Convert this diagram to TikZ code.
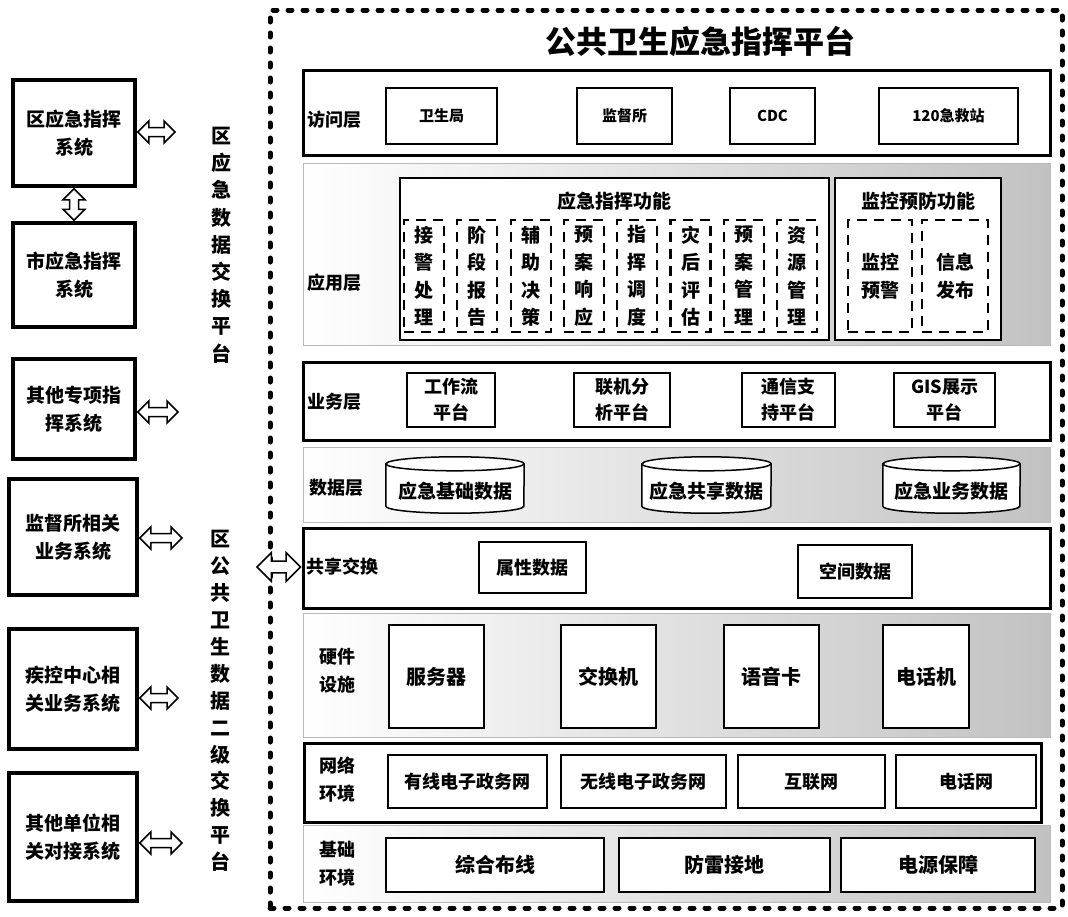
\documentclass[tikz,border=0pt]{standalone}
\usepackage{fontspec}
\setmainfont{Noto Sans CJK SC}
\usetikzlibrary{calc}
\begin{document}
\begin{tikzpicture}[x=1pt,y=-1pt,
  sysbox/.style={draw, line width=3.5pt, align=center, inner sep=0pt, font=\fontsize{19}{28}\selectfont\bfseries},
  layerbox/.style={draw, line width=3pt, inner sep=0pt},
  itembox/.style={draw, line width=1.4pt, align=center, inner sep=0pt, font=\fontsize{18}{26}\selectfont\bfseries},
  smallitem/.style={itembox, font=\fontsize{15}{20}\selectfont\bfseries},
  dbox/.style={draw, line width=2.2pt, dash pattern=on 10pt off 7pt, inner sep=0pt, align=center, font=\fontsize{19}{27.5}\selectfont\bfseries},
  funcbox/.style={draw, line width=1.6pt, inner sep=0pt},
  lbl/.style={inner sep=0pt, align=center, font=\fontsize{18}{28}\selectfont\bfseries},
  coltext/.style={inner sep=0pt, align=center, font=\fontsize{20}{27.2}\selectfont\bfseries},
  harrow/.style={draw, fill=white, line width=1.5pt, line join=miter,
    to path={let \p1=(\tikztostart), \p2=(\tikztotarget) in
      (\x1,\y1) -- (\x1+#1*11pt,\y1+#1*11pt) -- (\x1+#1*11pt,\y1+#1*4.5pt) -- (\x2-#1*11pt,\y1+#1*4.5pt)
      -- (\x2-#1*11pt,\y1+#1*11pt) -- (\x2,\y1) -- (\x2-#1*11pt,\y1-#1*11pt) -- (\x2-#1*11pt,\y1-#1*4.5pt)
      -- (\x1+#1*11pt,\y1-#1*4.5pt) -- (\x1+#1*11pt,\y1-#1*11pt) -- cycle}},
  harrow/.default=1,
  varrow/.style={draw, fill=white, line width=1.5pt, line join=miter,
    to path={let \p1=(\tikztostart), \p2=(\tikztotarget) in
      (\x1,\y1) -- (\x1+11pt,\y1-11pt) -- (\x1+4.5pt,\y1-11pt) -- (\x1+4.5pt,\y2+11pt)
      -- (\x1+11pt,\y2+11pt) -- (\x1,\y2) -- (\x1-11pt,\y2+11pt) -- (\x1-4.5pt,\y2+11pt)
      -- (\x1-4.5pt,\y1-11pt) -- (\x1-11pt,\y1-11pt) -- cycle}},
  region/.style={draw=gray!55, line width=0.6pt, left color=white, right color=black!24},
  cylnode/.style={inner sep=0pt, minimum height=56pt}
]
\useasboundingbox (0,0) rectangle (1068,916);

% ---------- left systems ----------
\node[sysbox, minimum width=122pt, minimum height=106pt] (b1) at (74,133) {区应急指挥\\系统};
\node[sysbox, minimum width=122pt, minimum height=104pt] (b2) at (74,275) {市应急指挥\\系统};
\node[sysbox, minimum width=122pt, minimum height=100pt] (b3) at (74,409) {其他专项指\\挥系统};
\node[sysbox, minimum width=128pt, minimum height=116pt] (b4) at (73,537) {监督所相关\\业务系统};
\node[sysbox, minimum width=128pt, minimum height=120pt] (b5) at (73,689) {疾控中心相\\关业务系统};
\node[sysbox, minimum width=128pt, minimum height=128pt] (b6) at (73,837) {其他单位相\\关对接系统};

\coordinate (e1) at (175,132);
\coordinate (e3) at (178,412);
\coordinate (e4) at (182,538);
\coordinate (e5) at (178,698);
\coordinate (e6) at (182,843);
\draw[harrow] ([xshift=1pt]b1.east |- e1) to (e1);
\draw[varrow] ([yshift=-1pt]b1.south) to ([yshift=1pt]b2.north);
\draw[harrow] ([xshift=1pt]b3.east |- e3) to (e3);
\draw[harrow] ([xshift=1pt]b4.east |- e4) to (e4);
\draw[harrow] ([xshift=1pt]b5.east |- e5) to (e5);
\draw[harrow] ([xshift=1pt]b6.east |- e6) to (e6);

% ---------- exchange platform columns ----------
\node[coltext] (col1) at (221,245) {区\\应\\急\\数\\据\\交\\换\\平\\台};
\node[coltext, font=\fontsize{20}{26.9}\selectfont\bfseries] (col2) at (220,701) {区\\公\\共\\卫\\生\\数\\据\\二\\级\\交\\换\\平\\台};

% ---------- shaded layer regions ----------
\path[region] (303,163) rectangle (1050,345);
\path[region] (303,447) rectangle (1050,522);
\path[region] (303,613) rectangle (1050,737);
\path[region] (303,825) rectangle (1050,902);

% ---------- outer dotted frame ----------
\node[draw, line width=5pt, dash pattern=on 4pt off 11pt, line cap=round, minimum width=792pt, minimum height=898pt, inner sep=0pt] (frame) at (666,459) {};

\node[inner sep=0pt, font=\fontsize{31}{34}\selectfont\bfseries] (title) at (700,42) {公共卫生应急指挥平台};

% ---------- access layer ----------
\node[layerbox, minimum width=747pt, minimum height=85pt] (access) at (676.5,112.5) {};
\node[lbl, anchor=west] (lacc) at (307,120) {访问层};
\node[smallitem, minimum width=111pt, minimum height=56pt] (a1) at (441.5,116) {卫生局};
\node[smallitem, minimum width=95pt, minimum height=56pt] (a2) at (624.5,116) {监督所};
\node[smallitem, minimum width=85pt, minimum height=56pt] (a3) at (772.5,116) {CDC};
\node[smallitem, minimum width=139pt, minimum height=56pt] (a4) at (948.5,116) {120急救站};

% ---------- application layer ----------
\node[lbl, anchor=west] (lapp) at (307,283) {应用层};
\node[funcbox, fill=white, minimum width=429pt, minimum height=162pt] (cmd) at (614.5,259) {};
\node[funcbox, fill=white, minimum width=166pt, minimum height=162pt] (mon) at (918,259) {};
\node[lbl, font=\fontsize{19}{24}\selectfont\bfseries] (cmdt) at (614,201) {应急指挥功能};
\node[lbl, font=\fontsize{19}{24}\selectfont\bfseries] (mont) at (918,201) {监控预防功能};
\node[dbox, minimum width=40pt, minimum height=112pt] (s1) at (424,276) {接\\警\\处\\理};
\node[dbox, minimum width=40pt, minimum height=112pt] (s2) at (477.3,276) {阶\\段\\报\\告};
\node[dbox, minimum width=40pt, minimum height=112pt] (s3) at (530.6,276) {辅\\助\\决\\策};
\node[dbox, minimum width=40pt, minimum height=112pt] (s4) at (583.9,276) {预\\案\\响\\应};
\node[dbox, minimum width=40pt, minimum height=112pt] (s5) at (637.2,276) {指\\挥\\调\\度};
\node[dbox, minimum width=40pt, minimum height=112pt] (s6) at (690.5,276) {灾\\后\\评\\估};
\node[dbox, minimum width=40pt, minimum height=112pt] (s7) at (743.8,276) {预\\案\\管\\理};
\node[dbox, minimum width=40pt, minimum height=112pt] (s8) at (797.1,276) {资\\源\\管\\理};
\node[dbox, minimum width=64pt, minimum height=112pt, font=\fontsize{19}{28}\selectfont\bfseries] (m1) at (880,276) {监控\\预警};
\node[dbox, minimum width=66pt, minimum height=112pt, font=\fontsize{19}{28}\selectfont\bfseries] (m2) at (955,276) {信息\\发布};

% ---------- business layer ----------
\node[layerbox, fill=white, minimum width=747pt, minimum height=78pt] (biz) at (676.5,401) {};
\node[lbl, anchor=west] (lbiz) at (307,402) {业务层};
\node[itembox, minimum width=88pt, minimum height=54pt] (p1) at (451,400) {工作流\\平台};
\node[itembox, minimum width=96pt, minimum height=54pt] (p2) at (622,400) {联机分\\析平台};
\node[itembox, minimum width=93pt, minimum height=54pt] (p3) at (788.5,400) {通信支\\持平台};
\node[itembox, minimum width=101pt, minimum height=54pt] (p4) at (944.5,400) {GIS展示\\平台};

% ---------- data layer ----------
\node[lbl, anchor=west] (ldata) at (309,488) {数据层};
\node[cylnode, minimum width=138pt] (c1) at (455,485) {};
\node[cylnode, minimum width=129pt] (c2) at (706.5,485) {};
\node[cylnode, minimum width=137pt] (c3) at (951.5,485) {};
\foreach \n/\r in {c1/69, c2/64.5, c3/68.5}{
  \filldraw[fill=white, line width=1.5pt] ([yshift=-7pt]\n.north west) -- ([yshift=7pt]\n.south west)
     arc[start angle=180, end angle=360, x radius=\r pt, y radius=7pt]
     -- ([yshift=-7pt]\n.north east)
     arc[start angle=0, end angle=180, x radius=\r pt, y radius=7pt] -- cycle;
  \draw[line width=1.5pt] ([yshift=-7pt]\n.north west) arc[start angle=180, end angle=360, x radius=\r pt, y radius=7pt];
}
\node[lbl, font=\fontsize{19}{24}\selectfont\bfseries] (t1) at ([yshift=-6pt]c1.center) {应急基础数据};
\node[lbl, font=\fontsize{19}{24}\selectfont\bfseries] (t2) at ([yshift=-6pt]c2.center) {应急共享数据};
\node[lbl, font=\fontsize{19}{24}\selectfont\bfseries] (t3) at ([yshift=-6pt]c3.center) {应急业务数据};

% ---------- sharing / exchange ----------
\node[layerbox, fill=white, minimum width=747pt, minimum height=80pt] (share) at (676.5,568) {};
\node[lbl, anchor=west] (lshare) at (306,567) {共享交换};
\node[itembox, minimum width=107pt, minimum height=51pt] (d1) at (532.5,567.5) {属性数据};
\node[itembox, minimum width=114pt, minimum height=53pt] (d2) at (855,571.5) {空间数据};
\coordinate (eb) at (257,567);
\draw[harrow=1.3] (eb) to ([xshift=-1pt]share.west);

% ---------- hardware ----------
\node[lbl] (lhw) at (337,671) {硬件\\设施};
\node[itembox, fill=white, minimum width=95pt, minimum height=103pt, font=\fontsize{20}{26}\selectfont\bfseries] (h1) at (436.5,676.5) {服务器};
\node[itembox, fill=white, minimum width=95pt, minimum height=103pt, font=\fontsize{20}{26}\selectfont\bfseries] (h2) at (608.5,676.5) {交换机};
\node[itembox, fill=white, minimum width=95pt, minimum height=103pt, font=\fontsize{20}{26}\selectfont\bfseries] (h3) at (771.5,676.5) {语音卡};
\node[itembox, fill=white, minimum width=86pt, minimum height=103pt, font=\fontsize{20}{26}\selectfont\bfseries] (h4) at (926,676.5) {电话机};

% ---------- network ----------
\node[layerbox, fill=white, minimum width=737pt, minimum height=79pt] (net) at (672.5,782.5) {};
\node[lbl] (lnet) at (337,780) {网络\\环境};
\node[itembox, minimum width=159pt, minimum height=53pt] (n1) at (467.5,781.5) {有线电子政务网};
\node[itembox, minimum width=165pt, minimum height=53pt] (n2) at (643.5,781.5) {无线电子政务网};
\node[itembox, minimum width=147pt, minimum height=53pt] (n3) at (811.5,781.5) {互联网};
\node[itembox, minimum width=140pt, minimum height=53pt] (n4) at (966,781.5) {电话网};

% ---------- base environment ----------
\node[lbl] (lbase) at (337,864) {基础\\环境};
\node[itembox, fill=white, minimum width=218pt, minimum height=54pt, font=\fontsize{20}{26}\selectfont\bfseries] (f1) at (495,865) {综合布线};
\node[itembox, fill=white, minimum width=211pt, minimum height=54pt, font=\fontsize{20}{26}\selectfont\bfseries] (f2) at (724.5,865) {防雷接地};
\node[itembox, fill=white, minimum width=194pt, minimum height=54pt, font=\fontsize{20}{26}\selectfont\bfseries] (f3) at (938,865) {电源保障};
\end{tikzpicture}
\end{document}
